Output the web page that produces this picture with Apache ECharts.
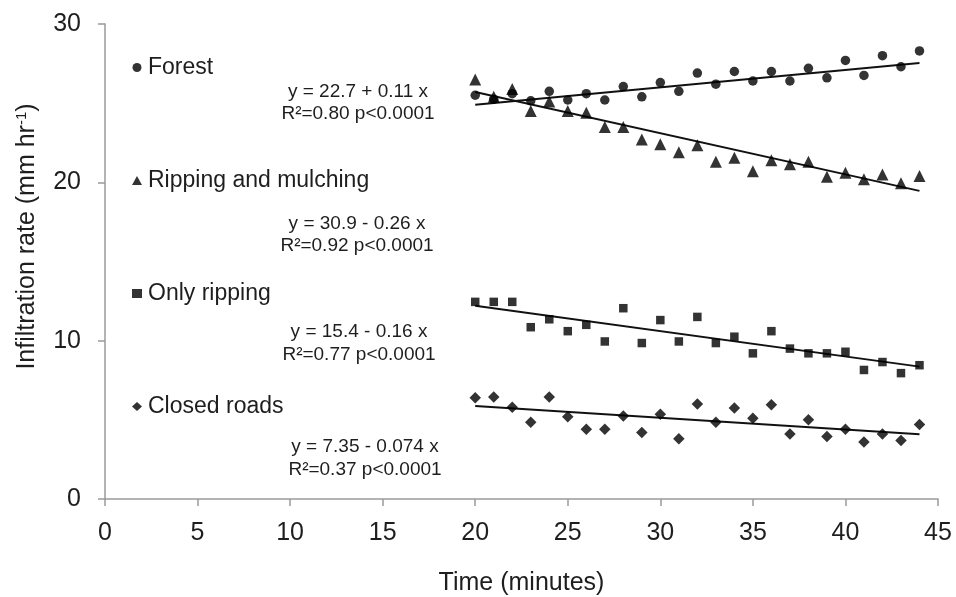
<!DOCTYPE html>
<html>
<head>
<meta charset="utf-8">
<script src="https://cdn.jsdelivr.net/npm/echarts@6/dist/echarts.min.js"></script>
<style>html,body{margin:0;padding:0;background:#fff}#c{width:956px;height:597px}</style>
</head>
<body>
<div id="c"></div>
<script>
const times = [20,21,22,23,24,25,26,27,28,29,30,31,32,33,34,35,36,37,38,39,40,41,42,43,44];
const forest = [25.5,25.25,25.6,25.15,25.75,25.2,25.6,25.2,26.05,25.4,26.3,25.75,26.9,26.2,27.0,26.4,27.0,26.4,27.2,26.6,27.7,26.75,28.0,27.3,28.3];
const rippingMulching = [26.5,25.4,25.9,24.5,25.1,24.5,24.4,23.5,23.5,22.7,22.4,21.9,22.35,21.3,21.55,20.7,21.4,21.15,21.3,20.35,20.6,20.2,20.5,19.95,20.4];
const onlyRipping = [12.45,12.45,12.45,10.85,11.35,10.6,11.0,9.95,12.05,9.85,11.3,9.95,11.5,9.85,10.25,9.2,10.6,9.5,9.2,9.2,9.3,8.15,8.65,7.95,8.45];
const closedRoads = [6.4,6.45,5.8,4.85,6.45,5.2,4.4,4.4,5.25,4.2,5.35,3.8,6.0,4.85,5.75,5.1,5.95,4.1,5.0,3.95,4.4,3.6,4.1,3.7,4.7];
const seriesNames = ['Forest','Ripping and mulching','Only ripping','Closed roads'];
const symbols = ['circle','triangle','rect','diamond'];
const trendX = [20,44];
const trendForest = [24.9,27.54];
const trendRippingMulching = [25.7,19.46];
const trendOnlyRipping = [12.2,8.36];
const trendClosedRoads = [5.87,4.09];
const equations = [
  ['y = 22.7 + 0.11 x','R²=0.80 p<0.0001'],
  ['y = 30.9 - 0.26 x','R²=0.92 p<0.0001'],
  ['y = 15.4 - 0.16 x','R²=0.77 p<0.0001'],
  ['y = 7.35 - 0.074 x','R²=0.37 p<0.0001']
];
const xTicks = [0,5,10,15,20,25,30,35,40,45];
const yTicks = [0,10,20,30];

const values = [forest, rippingMulching, onlyRipping, closedRoads];
const trends = [trendForest, trendRippingMulching, trendOnlyRipping, trendClosedRoads];
const symSizes = [9.5,12,8.5,11.5];
const FONT = '"Liberation Sans", Arial, sans-serif';
const TXT = '#1e1e1e';

const series = [];
values.forEach((v,i)=>{
  series.push({
    name: seriesNames[i], type:'scatter', symbol: symbols[i], symbolSize: symSizes[i],
    itemStyle:{color:'#000'},
    data: times.map((t,k)=>[t,v[k]]), z:3
  });
});
trends.forEach((tr,i)=>{
  series.push({
    name: seriesNames[i]+' trend', type:'line', showSymbol:false, symbol:'none',
    lineStyle:{color:'#111', width:2}, data: trendX.map((t,k)=>[t,tr[k]]), z:2, silent:true
  });
});

// text anchor positions (centre x, line1 y, line2 y)
const eqPos = [[358,92,114],[357,224,246],[359,332,355],[365,447,470]];
const graphics = [];
equations.forEach((e,i)=>{
  graphics.push({type:'text', x: eqPos[i][0], y: eqPos[i][1],
    style:{text:e[0], font:'19px '+FONT, fill:TXT, textAlign:'center', textVerticalAlign:'middle'}});
  graphics.push({type:'text', x: eqPos[i][0], y: eqPos[i][2],
    style:{text:e[1], font:'19px '+FONT, fill:TXT, textAlign:'center', textVerticalAlign:'middle'}});
});

const chart = echarts.init(document.getElementById('c'));
chart.setOption({
  backgroundColor:'#fff',
  animation:false,
  grid:{left:105, right:18, top:24, bottom:98, containLabel:false, outerBoundsMode:'none'},
  legend:{
    orient:'vertical', left:127, top:51, itemGap:90, itemWidth:10, itemHeight:9,
    data: seriesNames.map((n,i)=>({name:n, icon: symbols[i]})),
    textStyle:{fontSize:23, fontFamily:FONT, color:TXT, padding:[0,0,0,1]}, itemStyle:{color:'#000'}
  },
  xAxis:{
    type:'value', min:0, max:45, interval:5,
    name:'Time (minutes)', nameLocation:'middle', nameGap:72,
    nameTextStyle:{fontSize:25, fontFamily:FONT, color:TXT},
    axisLine:{lineStyle:{color:'#9a9a9a', width:1.5}},
    axisTick:{show:true, length:7, lineStyle:{color:'#9a9a9a', width:1.5}},
    axisLabel:{fontSize:25, fontFamily:FONT, color:TXT, margin:22, formatter:(v)=> xTicks.includes(v)? String(v):''},
    splitLine:{show:false}
  },
  yAxis:{
    type:'value', min:0, max:30, interval:10,
    name:'Infiltration rate (mm hr{sup|-1})', nameLocation:'middle', nameGap:64,
    nameTextStyle:{fontSize:25, fontFamily:FONT, color:TXT, padding:[0,0,0,50],
      rich:{sup:{fontSize:15, fontFamily:FONT, color:TXT, verticalAlign:'top', padding:[0,0,12,0]}}},
    axisLine:{show:true, lineStyle:{color:'#9a9a9a', width:1.5}},
    axisTick:{show:true, length:7, lineStyle:{color:'#9a9a9a', width:1.5}},
    axisLabel:{fontSize:25, fontFamily:FONT, color:TXT, margin:24, formatter:(v)=> yTicks.includes(v)? String(v):''},
    splitLine:{show:false}
  },
  graphic: graphics,
  series: series
});
</script>
</body>
</html>
